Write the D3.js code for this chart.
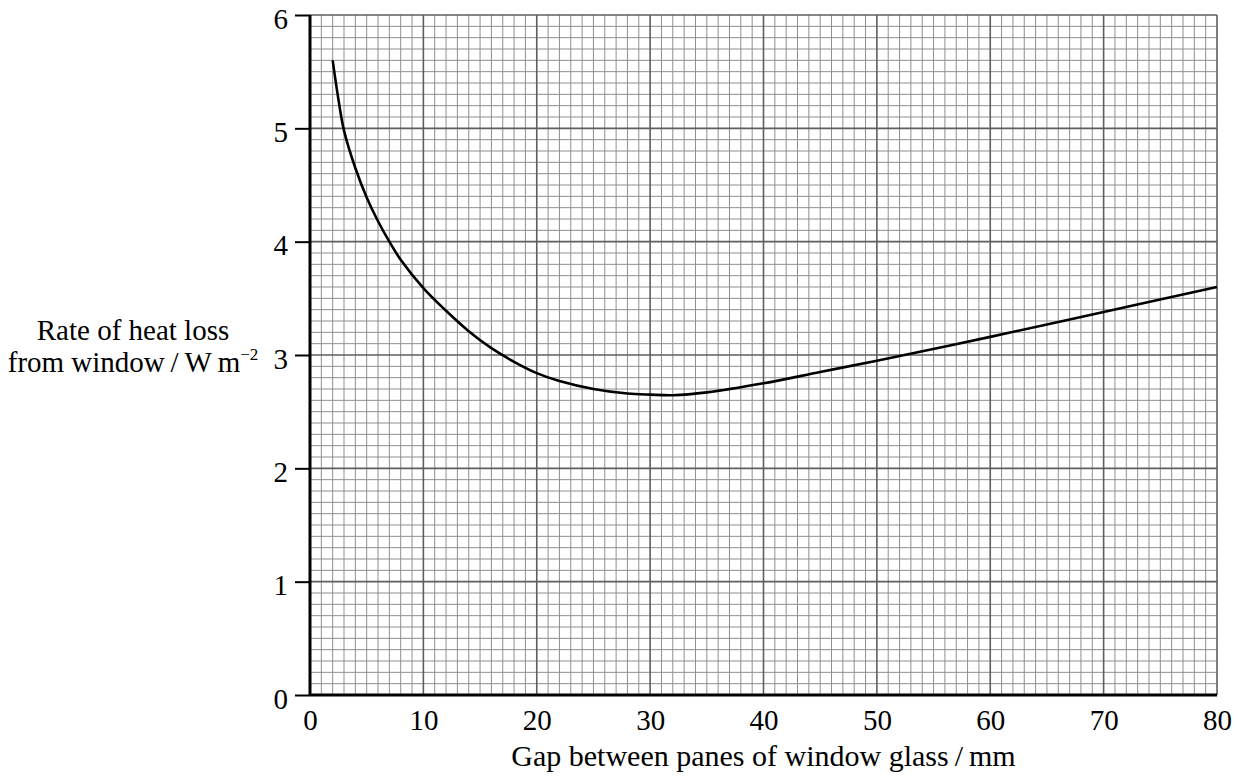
<!DOCTYPE html>
<html>
<head>
<meta charset="utf-8">
<script src="https://cdn.jsdelivr.net/npm/d3@7"></script>
<style>
  body { margin: 0; background: #fff; }
  text { font-family: "Liberation Serif", "Times New Roman", serif; fill: #000; }
</style>
</head>
<body>
<div id="d3-container"></div>
<script>
/* CONSTANTS AND GLOBALS */
const width = 1239,
  height = 783,
  margin = { top: 15, bottom: 88, left: 310, right: 22 };

/* DATA */
const gapMm = [2, 2.5, 3, 4, 5, 6, 7, 8, 10, 12, 14, 16, 18, 20, 22, 25, 28, 30, 32, 35, 40, 45, 50, 60, 70, 80];
const heatLoss = [5.6, 5.26, 4.98, 4.65, 4.39, 4.18, 4.0, 3.84, 3.59, 3.39, 3.21, 3.06, 2.94, 2.84, 2.77, 2.70, 2.66, 2.65, 2.645, 2.67, 2.75, 2.85, 2.95, 3.16, 3.38, 3.6];
const xTicks = [0, 10, 20, 30, 40, 50, 60, 70, 80];
const yTicks = [0, 1, 2, 3, 4, 5, 6];

const points = gapMm.map((g, i) => ({ gap: g, loss: heatLoss[i] }));

//SCALES
const xScale = d3.scaleLinear()
  .domain([0, 80])
  .range([margin.left, width - margin.right]);

const yScale = d3.scaleLinear()
  .domain([0, 6])
  .range([height - margin.bottom, margin.top]);

const svg = d3.select("#d3-container")
  .append("svg")
  .attr("width", width)
  .attr("height", height);

// graph paper grid: minor every 1 mm / 0.1 units, major every 10 mm / 1 unit
const minorX = d3.range(1, 81).filter(d => d % 10 !== 0);
const minorY = d3.range(1, 61).filter(d => d % 10 !== 0).map(d => d / 10);

const grid = svg.append("g").attr("class", "grid");

grid.selectAll(".minor-x")
  .data(minorX)
  .join("line")
  .attr("x1", d => xScale(d)).attr("x2", d => xScale(d))
  .attr("y1", yScale(0)).attr("y2", yScale(6))
  .attr("stroke", "#8f8f8f").attr("stroke-width", 1);

grid.selectAll(".minor-y")
  .data(minorY)
  .join("line")
  .attr("x1", xScale(0)).attr("x2", xScale(80))
  .attr("y1", d => yScale(d)).attr("y2", d => yScale(d))
  .attr("stroke", "#8f8f8f").attr("stroke-width", 1);

grid.selectAll(".major-x")
  .data(xTicks.slice(1))
  .join("line")
  .attr("x1", d => xScale(d)).attr("x2", d => xScale(d))
  .attr("y1", yScale(0)).attr("y2", yScale(6))
  .attr("stroke", "#5e5e5e").attr("stroke-width", 1.6);

grid.selectAll(".major-y")
  .data(yTicks.slice(1))
  .join("line")
  .attr("x1", xScale(0)).attr("x2", xScale(80))
  .attr("y1", d => yScale(d)).attr("y2", d => yScale(d))
  .attr("stroke", "#5e5e5e").attr("stroke-width", 1.6);

//AXES
const xAxis = d3.axisBottom(xScale).tickValues(xTicks).tickFormat(d3.format("d")).tickSize(0).tickPadding(14);
const yAxis = d3.axisLeft(yScale).tickValues(yTicks).tickFormat(d3.format("d")).tickSize(15).tickPadding(7);

const gx = svg.append("g")
  .attr("class", "xAxis")
  .attr("transform", `translate(0, ${yScale(0)})`)
  .call(xAxis);

const gy = svg.append("g")
  .attr("class", "yAxis")
  .attr("transform", `translate(${xScale(0)}, 0)`)
  .call(yAxis);

gx.select(".domain").attr("stroke", "#000").attr("stroke-width", 3)
  .attr("d", `M${xScale(0)},0H${xScale(80)}`);
gy.select(".domain").attr("stroke", "#000").attr("stroke-width", 3)
  .attr("d", `M0,${yScale(0)}V${yScale(6)}`);
gy.selectAll(".tick line").attr("stroke", "#000").attr("stroke-width", 2);

gx.selectAll(".tick text")
  .attr("font-size", 29)
  .attr("font-family", "Liberation Serif, serif")
  .attr("dy", "0.72em");

gy.selectAll(".tick text")
  .attr("font-size", 29)
  .attr("font-family", "Liberation Serif, serif")
  .attr("dy", "0.45em");

// curve
const line = d3.line()
  .x(d => xScale(d.gap))
  .y(d => yScale(d.loss))
  .curve(d3.curveCatmullRom.alpha(0.5));

svg.append("path")
  .datum(points)
  .attr("fill", "none")
  .attr("stroke", "#000")
  .attr("stroke-width", 2.6)
  .attr("d", line);

// axis titles
svg.append("text")
  .attr("x", (xScale(0) + xScale(80)) / 2)
  .attr("y", 766)
  .attr("text-anchor", "middle")
  .attr("font-size", 30)
  .text("Gap between panes of window glass\u2009/\u2009mm");

const yTitle = svg.append("text")
  .attr("text-anchor", "middle")
  .attr("font-size", 29);

yTitle.append("tspan")
  .attr("x", 133).attr("y", 340)
  .text("Rate of heat loss");

const line2 = yTitle.append("tspan")
  .attr("x", 133).attr("y", 372);
line2.append("tspan").text("from window\u2009/\u2009W\u2009m");
line2.append("tspan").attr("font-size", 17).attr("dy", -12).text("\u22122");
</script>
</body>
</html>
